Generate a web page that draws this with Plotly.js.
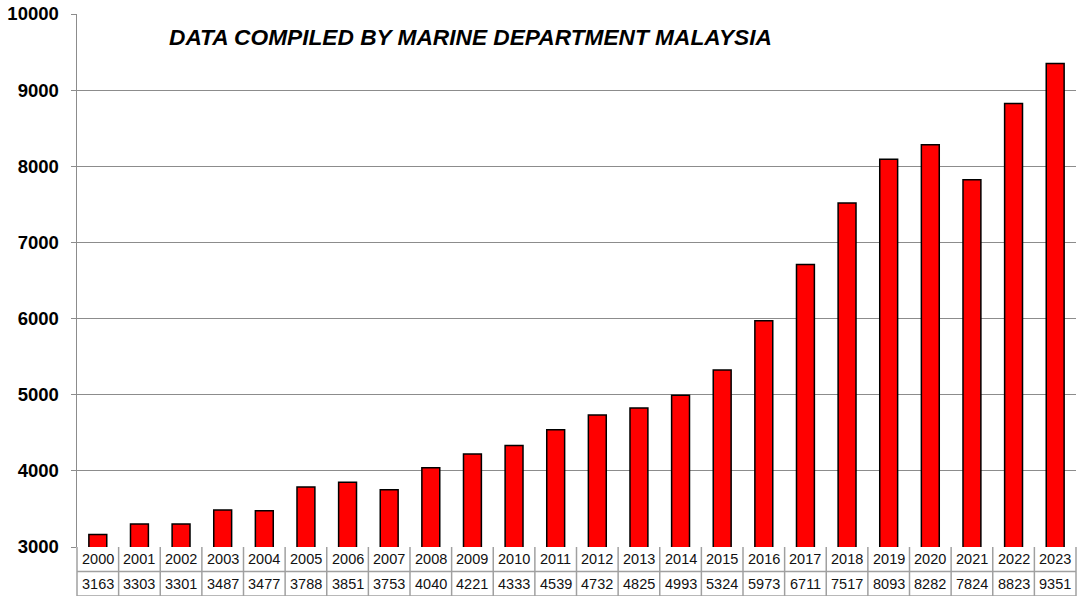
<!DOCTYPE html>
<html>
<head>
<meta charset="utf-8">
<script src="https://cdn.plot.ly/plotly-3.0.1.min.js"></script>
<style>html,body{margin:0;padding:0;background:#fff;}#chart{width:1077px;height:596px;}</style>
</head>
<body>
<div id="chart"></div>
<script>
const years = ["2000","2001","2002","2003","2004","2005","2006","2007","2008","2009","2010","2011","2012","2013","2014","2015","2016","2017","2018","2019","2020","2021","2022","2023"];
const values = [3163,3303,3301,3487,3477,3788,3851,3753,4040,4221,4333,4539,4732,4825,4993,5324,5973,6711,7517,8093,8282,7824,8823,9351];
const yTicks = [3000,4000,5000,6000,7000,8000,9000,10000];
const titleText = "DATA COMPILED BY MARINE DEPARTMENT MALAYSIA";

const W = 1077, H = 596;
const mL = 77, mR = 1, mT = 14, mB = 49;
const plotH = H - mT - mB;
const rowH = 24.5;
const fontFam = "Arial, 'Liberation Sans', sans-serif";
const gridCol = "#a0a0a0";

const shapes = [];
const annotations = [];
const n = years.length;
// table lines (paper coords)
const r0 = 0, r1 = -rowH / plotH, r2 = -2 * rowH / plotH;
[r1, r2].forEach(y => {
  shapes.push({type: "line", xref: "paper", yref: "paper", x0: 0, x1: 1, y0: y, y1: y, line: {color: gridCol, width: 1.5}});
});
for (let i = 0; i <= n; i++) {
  const x = i / n;
  shapes.push({type: "line", xref: "paper", yref: "paper", x0: x, x1: x, y0: r0, y1: r2, line: {color: gridCol, width: 1.5}});
}
years.forEach((yr, i) => {
  annotations.push({x: i, xref: "x", yref: "paper", y: (r0 + r1) / 2, yanchor: "middle", text: yr, showarrow: false, font: {family: fontFam, size: 14.5, color: "#111"}});
  annotations.push({x: i, xref: "x", yref: "paper", y: (r1 + r2) / 2, yanchor: "middle", text: String(values[i]), showarrow: false, font: {family: fontFam, size: 14.5, color: "#111"}});
});
annotations.push({xref: "paper", yref: "paper", x: 0.09, y: 0.957, xanchor: "left", yanchor: "middle", text: titleText, showarrow: false,
  font: {family: fontFam, size: 22.7, color: "#000", weight: "bold", style: "italic"}});

const trace = {
  type: "bar", x: years, y: values, width: 0.43,
  marker: {color: "#FF0000", line: {color: "#000000", width: 1.5}},
  hoverinfo: "x+y"
};

const layout = {
  width: W, height: H,
  margin: {l: mL, r: mR, t: mT, b: mB, pad: 0},
  paper_bgcolor: "#ffffff", plot_bgcolor: "#ffffff",
  showlegend: false,
  xaxis: {type: "category", range: [-0.5, n - 0.5], showticklabels: false, ticks: "", showgrid: false, zeroline: false, showline: false, fixedrange: true},
  yaxis: {range: [3000, 10000], tickvals: yTicks, ticktext: yTicks.map(String), showgrid: true, gridcolor: "#8c8c8c", gridwidth: 1,
    showline: true, linecolor: "#8c8c8c", linewidth: 1.5, ticks: "outside", ticklen: 5, tickcolor: "#8c8c8c", zeroline: false,
    tickfont: {family: fontFam, size: 18.5, color: "#000", weight: "bold"}, ticklabelstandoff: 8, fixedrange: true},
  shapes: shapes,
  annotations: annotations
};
Plotly.newPlot("chart", [trace], layout, {displayModeBar: false, staticPlot: true});
</script>
</body>
</html>
